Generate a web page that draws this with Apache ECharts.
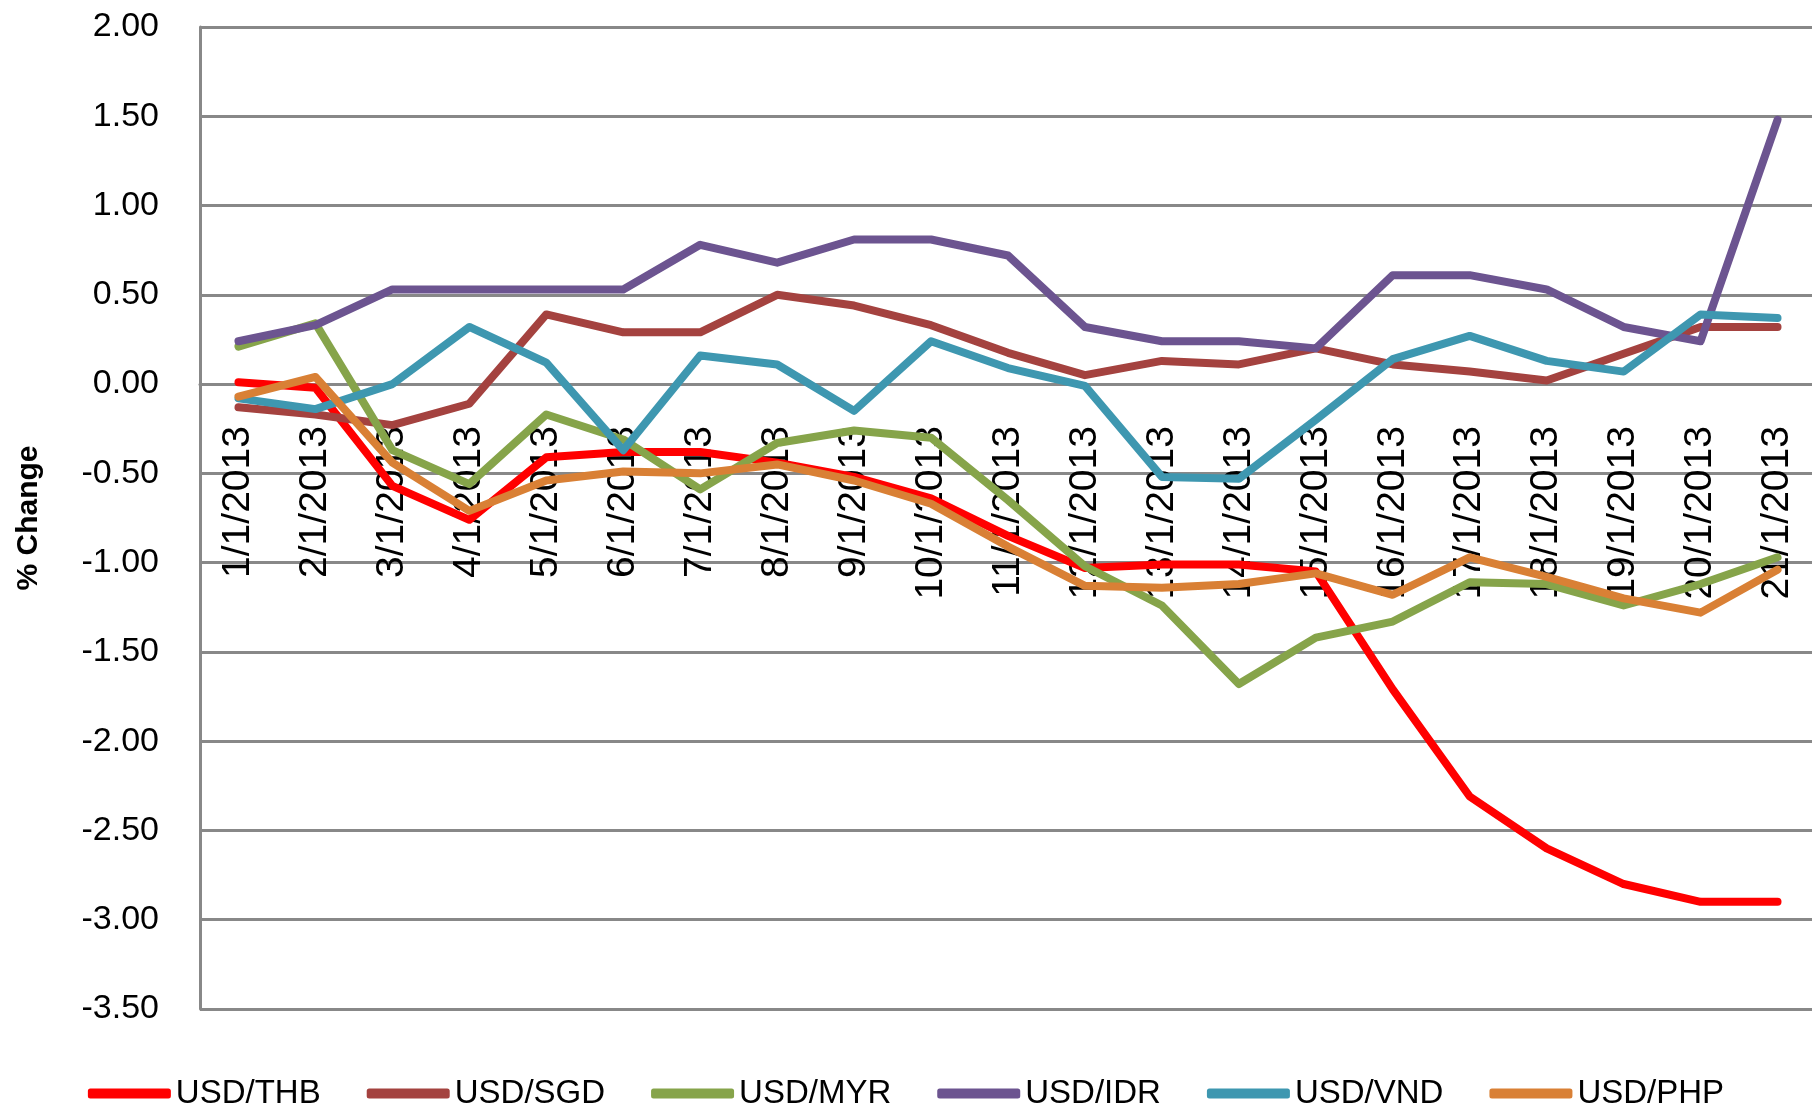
<!DOCTYPE html>
<html>
<head>
<meta charset="utf-8">
<script src="https://cdn.jsdelivr.net/npm/echarts@6/dist/echarts.min.js"></script>
<style>
  html, body { margin: 0; padding: 0; background: #ffffff; }
  #chart { width: 1812px; height: 1109px; }
</style>
</head>
<body>
<div id="chart"></div>
<script>
const categories = ["1/1/2013","2/1/2013","3/1/2013","4/1/2013","5/1/2013","6/1/2013","7/1/2013",
  "8/1/2013","9/1/2013","10/1/2013","11/1/2013","12/1/2013","13/1/2013","14/1/2013",
  "15/1/2013","16/1/2013","17/1/2013","18/1/2013","19/1/2013","20/1/2013","21/1/2013"];

const usdTHB = [0.01, -0.02, -0.57, -0.76, -0.41, -0.38, -0.38, -0.44, -0.52, -0.64, -0.85, -1.03, -1.01, -1.01, -1.05, -1.71, -2.31, -2.60, -2.80, -2.90, -2.90];
const usdSGD = [-0.13, -0.17, -0.23, -0.11, 0.39, 0.29, 0.29, 0.50, 0.44, 0.33, 0.175, 0.05, 0.13, 0.11, 0.20, 0.11, 0.07, 0.02, 0.17, 0.32, 0.32];
const usdMYR = [0.21, 0.34, -0.37, -0.56, -0.17, -0.31, -0.59, -0.33, -0.26, -0.30, -0.65, -1.02, -1.24, -1.68, -1.42, -1.33, -1.11, -1.12, -1.24, -1.12, -0.97];
const usdIDR = [0.24, 0.33, 0.53, 0.53, 0.53, 0.53, 0.78, 0.68, 0.81, 0.81, 0.72, 0.32, 0.24, 0.24, 0.20, 0.61, 0.61, 0.53, 0.32, 0.24, 1.48];
const usdVND = [-0.08, -0.14, 0.00, 0.32, 0.12, -0.37, 0.16, 0.11, -0.15, 0.24, 0.09, -0.01, -0.52, -0.53, -0.20, 0.14, 0.27, 0.13, 0.07, 0.39, 0.37];
const usdPHP = [-0.07, 0.04, -0.44, -0.71, -0.54, -0.49, -0.50, -0.45, -0.54, -0.67, -0.91, -1.13, -1.14, -1.12, -1.06, -1.18, -0.97, -1.08, -1.20, -1.28, -1.04];

const seriesNames = ["USD/THB", "USD/SGD", "USD/MYR", "USD/IDR", "USD/VND", "USD/PHP"];
const seriesData = [usdTHB, usdSGD, usdMYR, usdIDR, usdVND, usdPHP];
const seriesColors = ["#ff0000", "#a4423f", "#86a44a", "#6c5490", "#3e97b0", "#d98035"];

const yMin = -3.5, yMax = 2.0, yStep = 0.5;
const yAxisTitle = "% Change";

const FONT = "Liberation Sans, Arial, sans-serif";
const GRID_GRAY = "#888888";

const GRID = { left: 200, top: 27, width: 1616, height: 982 };
// category axis crosses the value axis at 0 (shift up from the bottom edge of the plot)
const xAxisCrossOffset = -GRID.height * (0 - yMin) / (yMax - yMin);

const chart = echarts.init(document.getElementById('chart'), null, { renderer: 'canvas' });

chart.setOption({
  animation: false,
  backgroundColor: '#ffffff',
  textStyle: { fontFamily: FONT },
  grid: Object.assign({ containLabel: false, outerBoundsMode: 'none' }, GRID),
  legend: {
    data: seriesNames,
    left: 'center',
    top: 1072,
    itemWidth: 83,
    itemHeight: 10,
    itemGap: 46,
    icon: 'roundRect',
    textStyle: { fontFamily: FONT, fontSize: 33, color: '#000' }
  },
  xAxis: {
    type: 'category',
    data: categories,
    boundaryGap: true,
    offset: xAxisCrossOffset,
    axisLine: { show: true, onZero: false, lineStyle: { color: GRID_GRAY, width: 3 } },
    axisTick: { show: false },
    axisLabel: { rotate: 90, interval: 0, margin: 42, fontSize: 39, fontFamily: FONT, color: '#000' },
    splitLine: { show: false }
  },
  yAxis: {
    type: 'value',
    min: yMin, max: yMax, interval: yStep,
    name: yAxisTitle,
    nameLocation: 'middle',
    nameRotate: 90,
    nameGap: 156,
    nameTextStyle: { fontFamily: FONT, fontSize: 30, fontWeight: 'bold', color: '#000' },
    axisLine: { show: true, lineStyle: { color: GRID_GRAY, width: 3 } },
    axisTick: { show: false },
    axisLabel: { margin: 41, fontSize: 34, fontFamily: FONT, color: '#000', formatter: v => v.toFixed(2) },
    splitLine: { show: true, lineStyle: { color: GRID_GRAY, width: 3 } }
  },
  series: seriesNames.map((n, i) => ({
    name: n,
    type: 'line',
    data: seriesData[i],
    symbol: 'none',
    color: seriesColors[i],
    lineStyle: { width: 8, color: seriesColors[i], cap: 'round', join: 'round' }
  }))
});
</script>
</body>
</html>
